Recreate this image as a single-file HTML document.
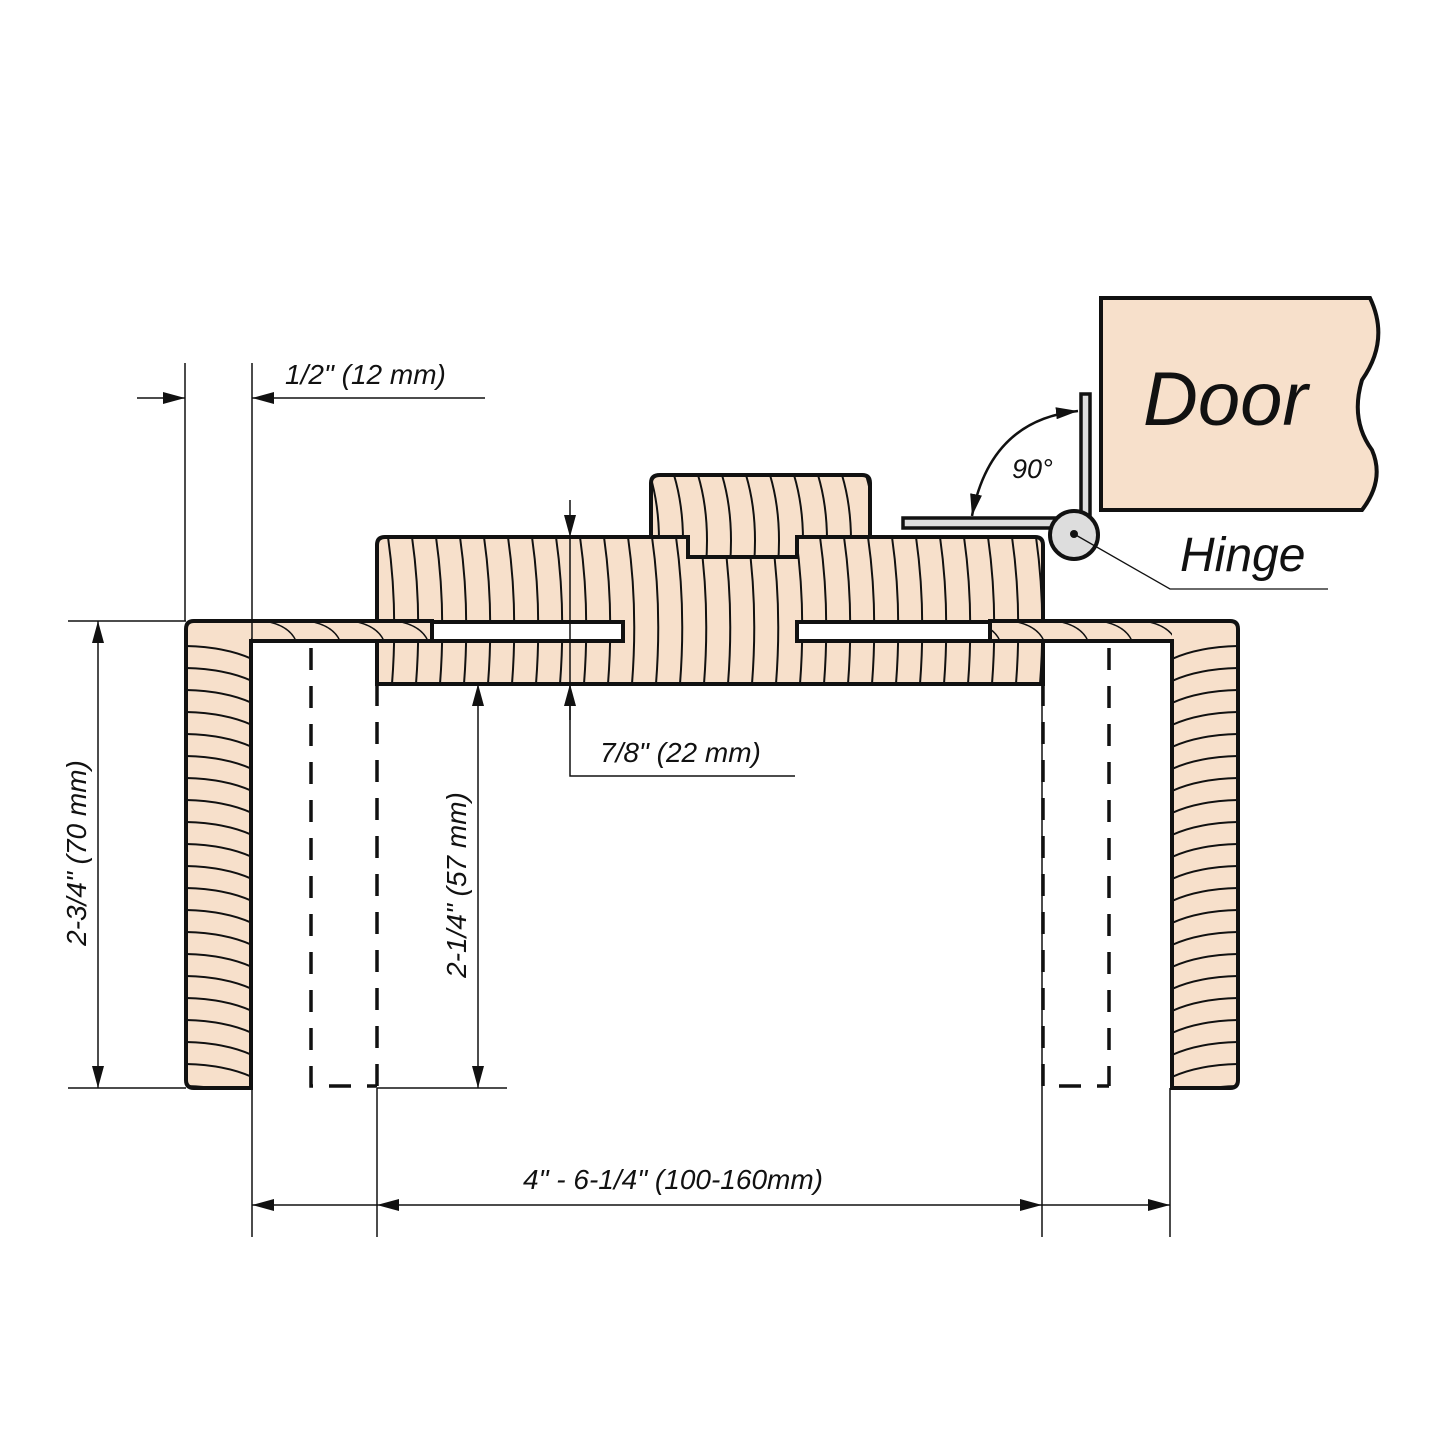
<!DOCTYPE html>
<html><head><meta charset="utf-8"><style>
html,body{margin:0;padding:0;background:#fff}
svg{display:block}
text{font-family:"Liberation Sans","DejaVu Sans",sans-serif;font-style:italic;fill:#111}
</style></head><body>
<svg width="1445" height="1445" viewBox="0 0 1445 1445" xmlns="http://www.w3.org/2000/svg">
<defs>
<pattern id="gv" patternUnits="userSpaceOnUse" x="0" y="537" width="24" height="147">
<path d="M4 0 Q14 70 8 147" fill="none" stroke="#111" stroke-width="2"/>
</pattern>
<pattern id="gt" patternUnits="userSpaceOnUse" x="0" y="475" width="24" height="90">
<path d="M2 0 Q14 40 10 90" fill="none" stroke="#111" stroke-width="2"/>
</pattern>
<pattern id="gh" patternUnits="userSpaceOnUse" x="186" y="621" width="66" height="22">
<path d="M0 3 Q40 4 66 16" fill="none" stroke="#111" stroke-width="2"/>
</pattern>
<pattern id="ghr" patternUnits="userSpaceOnUse" x="1172" y="621" width="66" height="22">
<path d="M66 3 Q26 4 0 16" fill="none" stroke="#111" stroke-width="2"/>
</pattern>
<pattern id="gs" patternUnits="userSpaceOnUse" x="0" y="621" width="44" height="20">
<path d="M0 0 Q25 4 32 20" fill="none" stroke="#111" stroke-width="1.5"/>
</pattern>
<marker id="a" viewBox="0 0 22 12" refX="22" refY="6" markerWidth="22" markerHeight="12" markerUnits="userSpaceOnUse" orient="auto-start-reverse">
<path d="M0 0 L22 6 L0 12 Z" fill="#111"/></marker>
</defs>

<path d="M385 537 H688 V557 H797 V537 H1035 Q1043 537 1043 545 V684 H377 V545 Q377 537 385 537 Z" fill="#f7e0cb"/>
<path d="M385 537 H688 V557 H797 V537 H1035 Q1043 537 1043 545 V684 H377 V545 Q377 537 385 537 Z" fill="url(#gv)" stroke="#111" stroke-width="4"/>
<path d="M660 475 H862 Q870 475 870 483 V537 H797 V557 H688 V537 H651 V483 Q651 475 660 475 Z" fill="#f7e0cb"/>
<path d="M660 475 H862 Q870 475 870 483 V537 H797 V557 H688 V537 H651 V483 Q651 475 660 475 Z" fill="url(#gt)" stroke="#111" stroke-width="4"/>

<path d="M194 621 H432 V641 H251 V1088 H194 Q186 1088 186 1080 V629 Q186 621 194 621 Z" fill="#f7e0cb"/>
<rect x="186" y="641" width="65" height="447" fill="url(#gh)"/>
<rect x="251" y="621" width="181" height="20" fill="url(#gs)"/>
<path d="M194 621 H432 V641 H251 V1088 H194 Q186 1088 186 1080 V629 Q186 621 194 621 Z" fill="none" stroke="#111" stroke-width="4"/>
<path d="M1230 621 H990 V641 H1172 V1088 H1230 Q1238 1088 1238 1080 V629 Q1238 621 1230 621 Z" fill="#f7e0cb"/>
<rect x="1172" y="641" width="66" height="447" fill="url(#ghr)"/>
<rect x="990" y="621" width="182" height="20" fill="url(#gs)"/>
<path d="M1230 621 H990 V641 H1172 V1088 H1230 Q1238 1088 1238 1080 V629 Q1238 621 1230 621 Z" fill="none" stroke="#111" stroke-width="4"/>
<rect x="432" y="622" width="191" height="19" fill="#fff" stroke="#111" stroke-width="4"/>
<rect x="797" y="622" width="193" height="19" fill="#fff" stroke="#111" stroke-width="4"/>

<g stroke="#111" stroke-width="3.5" fill="none" stroke-dasharray="22,16">
<path d="M311 648 V1086 H377"/>
<path d="M377 684 V1086"/>
<path d="M1043 684 V1086 H1109"/>
<path d="M1109 648 V1086"/>
</g>

<g stroke="#111" stroke-width="1.5" fill="none">
<line x1="185" y1="363" x2="185" y2="621"/>
<line x1="252" y1="363" x2="252" y2="1237"/>
<line x1="137" y1="398" x2="185" y2="398" marker-end="url(#a)"/>
<line x1="252" y1="398" x2="485" y2="398" marker-start="url(#a)"/>
<line x1="68" y1="621" x2="186" y2="621"/>
<line x1="68" y1="1088" x2="186" y2="1088"/>
<line x1="98" y1="621" x2="98" y2="1088" marker-start="url(#a)" marker-end="url(#a)"/>
<line x1="377" y1="1088" x2="507" y2="1088"/>
<line x1="478" y1="684" x2="478" y2="1088" marker-start="url(#a)" marker-end="url(#a)"/>
<line x1="570" y1="500" x2="570" y2="537" marker-end="url(#a)"/>
<line x1="570" y1="537" x2="570" y2="684"/>
<path d="M570 684 V776 H795"/>
<line x1="570" y1="720" x2="570" y2="684" marker-end="url(#a)"/>
<line x1="377" y1="1088" x2="377" y2="1237"/>
<line x1="1042" y1="684" x2="1042" y2="1237"/>
<line x1="1170" y1="1088" x2="1170" y2="1237"/>
<line x1="252" y1="1205" x2="377" y2="1205" marker-start="url(#a)"/>
<line x1="377" y1="1205" x2="1042" y2="1205" marker-start="url(#a)" marker-end="url(#a)"/>
<line x1="1042" y1="1205" x2="1170" y2="1205" marker-end="url(#a)"/>
</g>

<path d="M1101 298 H1370 Q1390 340 1362 380 Q1350 420 1372 450 Q1385 480 1362 510 H1101 Z" fill="#f7e0cb" stroke="#111" stroke-width="4"/>
<text x="1143" y="425" font-size="76">Door</text>
<rect x="1081" y="394" width="9" height="128" fill="#ddd" stroke="#111" stroke-width="3.5"/>
<rect x="903" y="518" width="158" height="10" fill="#ddd" stroke="#111" stroke-width="3.5"/>
<circle cx="1074" cy="535" r="24" fill="#ddd" stroke="#111" stroke-width="4"/>
<circle cx="1074" cy="534" r="4" fill="#111"/>
<path d="M1074 534 L1170 589 H1328" stroke="#111" stroke-width="1.3" fill="none"/>
<path d="M1078 411 Q990 420 972 516" stroke="#111" stroke-width="2.5" fill="none" marker-start="url(#a)" marker-end="url(#a)"/>
<text x="1012" y="478" font-size="27">90°</text>
<text x="1180" y="571" font-size="48">Hinge</text>

<text x="285" y="384" font-size="28">1/2"  (12 mm)</text>
<text x="600" y="762" font-size="28">7/8" (22 mm)</text>
<text x="523" y="1189" font-size="28">4" - 6-1/4" (100-160mm)</text>
<text transform="translate(86,853) rotate(-90)" text-anchor="middle" font-size="28">2-3/4" (70 mm)</text>
<text transform="translate(466,885) rotate(-90)" text-anchor="middle" font-size="28">2-1/4" (57 mm)</text>
</svg>
</body></html>
